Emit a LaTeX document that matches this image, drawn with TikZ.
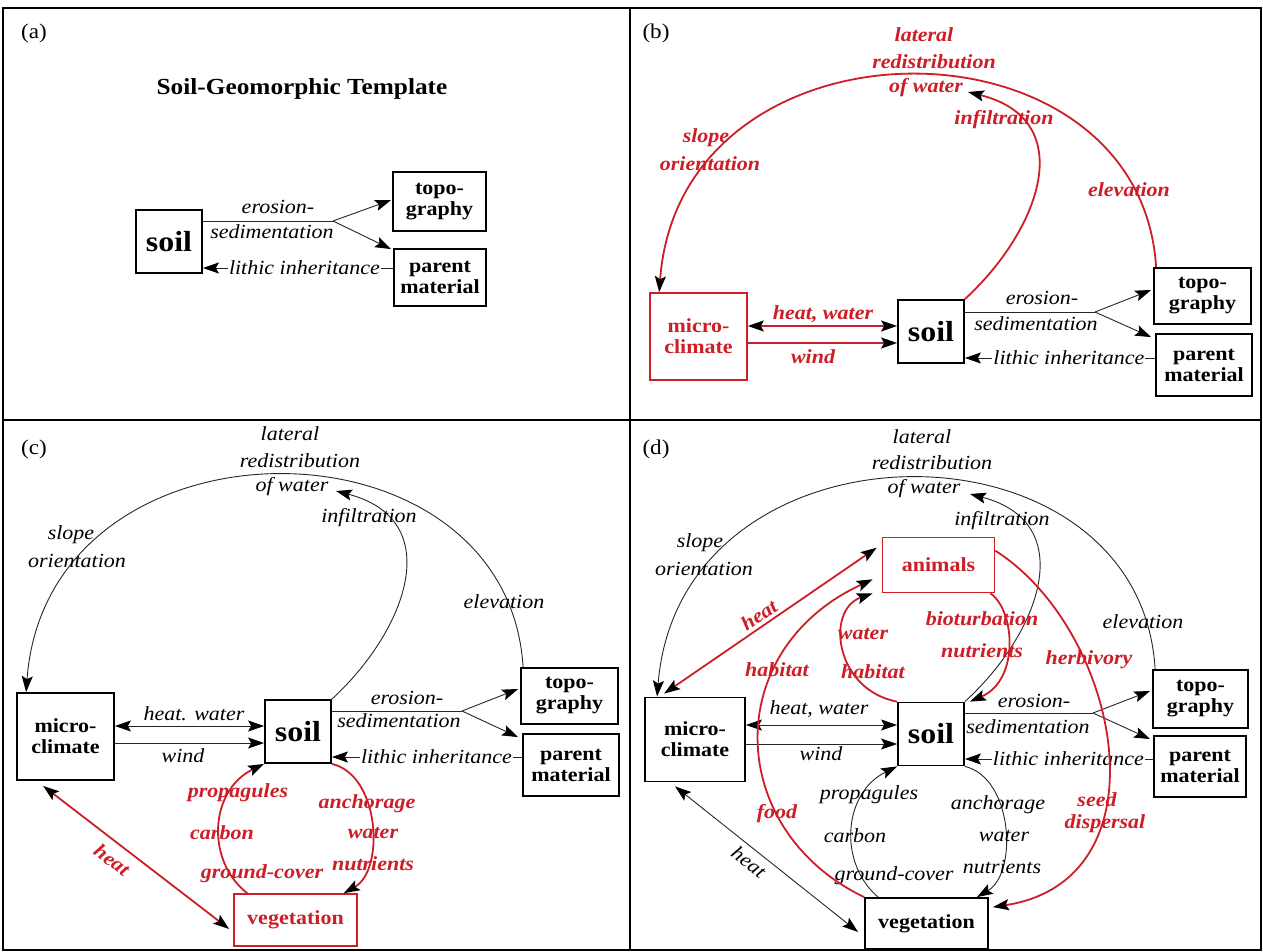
\documentclass[tikz,border=0pt]{standalone}
\usepackage{fontspec}
\setmainfont{Liberation Serif}[FakeStretch=1.1]
\usetikzlibrary{arrows.meta}
\definecolor{rd}{RGB}{205,30,40}
\tikzset{
 box/.style={draw, line width=1.8pt, align=center, inner sep=0pt, font=\bfseries\fontsize{20}{21}\selectfont},
 rbox/.style={box, draw=rd, text=rd, line width=1.6pt},
 soilbox/.style={box, font=\bfseries\fontsize{29}{30}\selectfont, minimum width=66pt, minimum height=63pt},
 lab/.style={font=\itshape\fontsize{20}{21}\selectfont, inner sep=1pt},
 rlab/.style={font=\bfseries\itshape\fontsize{20}{21}\selectfont, text=rd, inner sep=1pt},
 tag/.style={font=\fontsize{21}{22}\selectfont},
 conn/.style={line width=0.9pt, draw=black!85},
 rconn/.style={line width=1.8pt, draw=rd},
 frame/.style={line width=2pt},
}
\begin{document}
\begin{tikzpicture}[x=1pt,y=-1pt,>={Stealth[length=16pt,width=11pt,inset=3pt,color=black]}]
\useasboundingbox (0,0) rectangle (1263,952);
% frame
\draw[frame] (3,8) rectangle (1261,950);
\draw[frame] (630,8) -- (630,950);
\draw[frame] (3,420) -- (1261,420);

% ================= panel (a)
\node[tag] (a-tag) at (34,33) {(a)};
\node[font=\bfseries\fontsize{23}{24}\selectfont] (a-title) at (302,89) {Soil-Geomorphic Template};
\node[soilbox] (a-soil) at (169,241.5) {soil};
\node[box, minimum width=93pt, minimum height=59pt] (a-topo) at (439.5,201.5) {topo-\\graphy};
\node[box, minimum width=92pt, minimum height=57pt] (a-par) at (440,277.5) {parent\\material};
\coordinate (a-br) at (333,221);
\draw[conn] ([yshift=20.5pt]a-soil.east) -- (a-br);
\draw[conn,->] (a-br) -- ([xshift=-1pt,yshift=1.5pt]a-topo.west);
\draw[conn,->] (a-br) -- ([xshift=-2pt,yshift=-1pt]a-par.north west);
\node[lab] (a-ero) at (278,207) {erosion-};
\node[lab] (a-sed) at (272,232) {sedimentation};
\draw[conn,->] ([yshift=9.5pt]a-par.west) -- ([yshift=-26.5pt]a-soil.east)
  node[lab, fill=white, pos=0.466] (a-lit) {lithic inheritance};

% ================= panel (b)
\node[tag] (b-tag) at (656,33) {(b)};
\node[rbox, minimum width=97pt, minimum height=87pt] (b-mc) at (698.5,336.5) {micro-\\climate};
\node[soilbox] (b-soil) at (931,331.5) {soil};
\node[box, minimum width=97pt, minimum height=56pt] (b-topo) at (1202.5,296) {topo-\\graphy};
\node[box, minimum width=96pt, minimum height=62pt] (b-par) at (1204,365) {parent\\material};
\draw[rconn,<->] ([yshift=10.5pt]b-mc.east) -- ([yshift=5.5pt]b-soil.west);
\draw[rconn,->] ([yshift=-6.5pt]b-mc.east) -- ([yshift=-11.5pt]b-soil.west);
\node[rlab] (b-hw) at (823,314) {heat, water};
\node[rlab] (b-wi) at (813,357) {wind};
\coordinate (b-br) at (1095,312);
\draw[conn] ([yshift=19.5pt]b-soil.east) -- (b-br);
\draw[conn,->] (b-br) -- ([xshift=-2pt,yshift=6pt]b-topo.west);
\draw[conn,->] (b-br) -- ([xshift=-4pt,yshift=-4pt]b-par.north west);
\node[lab] (b-ero) at (1042,298) {erosion-};
\node[lab] (b-sed) at (1036,324) {sedimentation};
\draw[conn,->] ([yshift=7pt]b-par.west) -- ([yshift=-26.5pt]b-soil.east)
  node[lab, fill=white, pos=0.453] (b-lit) {lithic inheritance};
\draw[rconn,->] ([xshift=3pt]b-topo.north west) .. controls (1140,7) and (680,7) .. ([xshift=10pt]b-mc.north west);
\coordinate (b-lw) at (968,92);
\draw[rconn,->] (b-soil.north east) .. controls (1040,230) and (1080,120) .. (b-lw);
\node[rlab] (b-l1) at (924,35) {lateral};
\node[rlab] (b-l2) at (934,62) {redistribution};
\node[rlab] (b-l3) at (926,88) {of water};
\node[rlab] (b-inf) at (1004,120) {infiltration};
\node[rlab] (b-s1) at (706,138) {slope};
\node[rlab] (b-s2) at (710,164) {orientation};
\node[rlab] (b-el) at (1129,190) {elevation};

% ================= panel (c)
\node[tag] (c-tag) at (34,449) {(c)};
\node[box, minimum width=97pt, minimum height=87pt] (c-mc) at (65.5,736.5) {micro-\\climate};
\node[soilbox] (c-soil) at (298,731.5) {soil};
\node[box, minimum width=97pt, minimum height=56pt] (c-topo) at (569.5,696) {topo-\\graphy};
\node[box, minimum width=96pt, minimum height=62pt] (c-par) at (571,765) {parent\\material};
\node[rbox, minimum width=123pt, minimum height=52pt] (c-veg) at (295.5,920) {vegetation};
\draw[conn,<->] ([yshift=10.5pt]c-mc.east) -- ([yshift=5.5pt]c-soil.west);
\draw[conn,->] ([yshift=-6.5pt]c-mc.east) -- ([yshift=-11.5pt]c-soil.west);
\node[lab] (c-hw) at (194,714) {heat. water};
\node[lab] (c-wi) at (183,756) {wind};
\coordinate (c-br) at (462,711);
\draw[conn] ([yshift=20.5pt]c-soil.east) -- (c-br);
\draw[conn,->] (c-br) -- ([xshift=-2pt,yshift=7pt]c-topo.west);
\draw[conn,->] (c-br) -- ([xshift=-4pt,yshift=-4pt]c-par.north west);
\node[lab] (c-ero) at (407,698) {erosion-};
\node[lab] (c-sed) at (399,721) {sedimentation};
\draw[conn,->] ([yshift=8pt]c-par.west) -- ([yshift=-25.5pt]c-soil.east)
  node[lab, fill=white, pos=0.45] (c-lit) {lithic inheritance};
\draw[conn,->] ([xshift=3pt]c-topo.north west) .. controls (507,407) and (47,407) .. ([xshift=10pt]c-mc.north west);
\coordinate (c-lw) at (336,491);
\draw[conn,->] (c-soil.north east) .. controls (407,630) and (447,520) .. (c-lw);
\node[lab] (c-l1) at (290,434) {lateral};
\node[lab] (c-l2) at (300,461) {redistribution};
\node[lab] (c-l3) at (292,487) {of water};
\node[lab] (c-inf) at (369,518) {infiltration};
\node[lab] (c-s1) at (71,535) {slope};
\node[lab] (c-s2) at (77,561) {orientation};
\node[lab] (c-el) at (504,602) {elevation};
% red vegetation links
\draw[rconn,<->] ([xshift=27pt,yshift=-5pt]c-mc.south west) -- ([xshift=-4pt,yshift=-9pt]c-veg.west);
\node[rlab, rotate=-37] (c-heat) at (112,860) {heat};
\draw[rconn,->] ([xshift=14pt]c-veg.north west) .. controls (205,860) and (210,790) .. (c-soil.south west);
\draw[rconn,->] (c-soil.south east) .. controls (380,775) and (385,870) .. ([xshift=-14pt]c-veg.north east);
\node[rlab] (c-pr) at (238,793) {propagules};
\node[rlab] (c-ca) at (222,833) {carbon};
\node[rlab] (c-gc) at (262,874) {ground-cover};
\node[rlab] (c-an) at (367,804) {anchorage};
\node[rlab] (c-wa) at (373,833) {water};
\node[rlab] (c-nu) at (373,864) {nutrients};

% ================= panel (d)
\node[tag] (d-tag) at (656,449) {(d)};
\node[box, minimum width=100pt, minimum height=84pt] (d-mc) at (695,739.5) {micro-\\climate};
\node[soilbox] (d-soil) at (931,734) {soil};
\node[box, minimum width=95pt, minimum height=58pt] (d-topo) at (1200.5,699) {topo-\\graphy};
\node[box, minimum width=92pt, minimum height=61pt] (d-par) at (1200,766.5) {parent\\material};
\node[box, minimum width=123pt, minimum height=51pt] (d-veg) at (926.5,923.5) {vegetation};
\node[rbox, minimum width=112pt, minimum height=55pt] (d-an) at (938.5,565) {animals};
\draw[conn,<->] ([yshift=14.5pt]d-mc.east) -- ([yshift=9pt]d-soil.west);
\draw[conn,->] ([yshift=-4.5pt]d-mc.east) -- ([yshift=-10pt]d-soil.west);
\node[lab] (d-hw) at (819,709) {heat, water};
\node[lab] (d-wi) at (821,754) {wind};
\coordinate (d-br) at (1093,713);
\draw[conn] ([yshift=21pt]d-soil.east) -- (d-br);
\draw[conn,->] (d-br) -- ([xshift=-2pt,yshift=8pt]d-topo.west);
\draw[conn,->] (d-br) -- ([xshift=-3pt,yshift=-4pt]d-par.north west);
\node[lab] (d-ero) at (1034,701) {erosion-};
\node[lab] (d-sed) at (1028,727) {sedimentation};
\draw[conn,->] ([yshift=7.5pt]d-par.west) -- ([yshift=-25pt]d-soil.east)
  node[lab, fill=white, pos=0.45] (d-lit) {lithic inheritance};
\draw[conn,->] ([xshift=3pt]d-topo.north west) .. controls (1140,410) and (680,410) .. ([xshift=13pt]d-mc.north west);
\coordinate (d-lw) at (970,494);
\draw[conn,->] (d-soil.north east) .. controls (1040,633) and (1080,523) .. (d-lw);
\node[lab] (d-l1) at (922,437) {lateral};
\node[lab] (d-l2) at (932,463) {redistribution};
\node[lab] (d-l3) at (924,489) {of water};
\node[lab] (d-inf) at (1002,521) {infiltration};
\node[lab] (d-s1) at (700,543) {slope};
\node[lab] (d-s2) at (704,569) {orientation};
\node[lab] (d-el) at (1143,622) {elevation};
% black vegetation links
\draw[conn,<->] ([xshift=31pt,yshift=-4pt]d-mc.south west) -- ([xshift=-6pt,yshift=-8.5pt]d-veg.west);
\node[lab, rotate=-38] (d-heat2) at (749,862) {heat};
\draw[conn,->] ([xshift=14pt]d-veg.north west) .. controls (838,863) and (843,793) .. (d-soil.south west);
\draw[conn,->] (d-soil.south east) .. controls (1013,778) and (1018,873) .. ([xshift=-12pt]d-veg.north east);
\node[lab] (d-pr) at (869,795) {propagules};
\node[lab] (d-ca) at (855,836) {carbon};
\node[lab] (d-gc) at (894,876) {ground-cover};
\node[lab] (d-anc) at (998,805) {anchorage};
\node[lab] (d-wa) at (1004,836) {water};
\node[lab] (d-nu) at (1002,867) {nutrients};
% red animal links
\draw[rconn,<->] ([xshift=20pt,yshift=3pt]d-mc.north west) -- ([xshift=-5pt,yshift=-11pt]d-an.north west);
\node[rlab, rotate=34] (d-heat) at (759,615) {heat};
\draw[rconn,->] (d-veg.north west) .. controls (725,830) and (720,650) .. ([xshift=-9pt,yshift=14pt]d-an.south west);
\node[rlab] (d-hab1) at (777,670) {habitat};
\node[rlab] (d-food) at (777,814) {food};
\draw[rconn,->] (d-soil.north west) .. controls (835,690) and (825,610) .. ([xshift=-9pt]d-an.south west);
\node[rlab] (d-wat) at (863,634) {water};
\node[rlab] (d-hab2) at (873,672) {habitat};
\draw[rconn,->] ([xshift=-5pt]d-an.south east) .. controls (1015,610) and (1020,680) .. ([xshift=5pt]d-soil.north east);
\node[rlab] (d-bio) at (982,619) {bioturbation};
\node[rlab] (d-nut) at (982,651) {nutrients};
\draw[rconn,->] ([yshift=-14pt]d-an.north east) .. controls (1120,630) and (1170,880) .. ([xshift=4pt,yshift=-10pt]d-veg.north east);
\node[rlab] (d-herb) at (1089,660) {herbivory};
\node[rlab] (d-seed) at (1097,800) {seed};
\node[rlab] (d-disp) at (1105,824) {dispersal};
\end{tikzpicture}
\end{document}
